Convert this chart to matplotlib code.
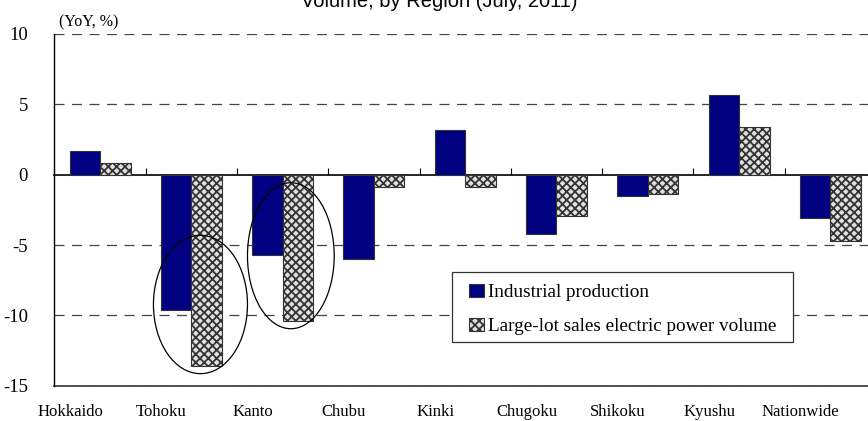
import matplotlib.pyplot as plt
import matplotlib.transforms as mtransforms
import numpy as np
from matplotlib.patches import Ellipse, Rectangle

# --- Data ---
regions = ["Hokkaido", "Tohoku", "Kanto", "Chubu", "Kinki", "Chugoku", "Shikoku", "Kyushu", "Nationwide"]
industrial = [1.7, -9.6, -5.7, -6.0, 3.2, -4.2, -1.5, 5.65, -3.05]
electric = [0.8, -13.6, -10.4, -0.9, -0.9, -2.95, -1.4, 3.4, -4.7]
yticks = [-15, -10, -5, 0, 5, 10]

plt.rcParams["font.family"] = ["Liberation Serif", "DejaVu Serif"]
plt.rcParams["axes.unicode_minus"] = False
plt.rcParams["hatch.color"] = "#808080"
plt.rcParams["hatch.linewidth"] = 1.3

fig = plt.figure(figsize=(8.68, 4.21), dpi=100)
W, H = 868, 421
ax = fig.add_axes([54.4 / W, (H - 385.7) / H, (876 - 54.4) / W, (385.7 - 34) / H])

x = np.arange(len(regions))
w = 0.334
ax.bar(x - w / 2, industrial, w, color="#000080", edgecolor="#333333", linewidth=0.8,
       label="Industrial production", zorder=3)
ax.bar(x + w / 2, electric, w, color="#e0e0e0", edgecolor="#333333", linewidth=0.8,
       hatch="xxxx", label="Large-lot sales electric power volume", zorder=3)

# circles around Tohoku and Kanto
for cx, cy, ew, eh in [(1.10, -9.23, 1.03, 9.83), (2.09, -5.76, 0.95, 10.38)]:
    ax.add_patch(Ellipse((cx, cy), ew, eh, fill=False, edgecolor="black", linewidth=0.9, zorder=4))

# axes styling
ax.set_xlim(-0.5, len(regions) - 0.5)
ax.set_ylim(-15, 10)
ax.set_yticks(yticks)
ax.tick_params(axis="y", length=0, pad=19, labelsize=13.5)
for y in yticks:
    if y != 0:
        ax.axhline(y, color="#444444", linewidth=0.9, linestyle=(0, (8, 6)), zorder=1)

ax.spines["top"].set_visible(False)
ax.spines["right"].set_visible(False)
ax.spines["left"].set_linewidth(1.0)
ax.spines["bottom"].set_position(("data", 0))
ax.spines["bottom"].set_linewidth(1.2)
ax.set_xticks(np.arange(len(regions) + 1) - 0.5)
ax.tick_params(axis="x", direction="in", length=5, width=0.8, labelbottom=False)

sec = ax.secondary_xaxis(0.0)
sec.set_xticks(x)
sec.set_xticklabels(regions)
sec.tick_params(length=0, pad=13.5, labelsize=12)
sec.spines["bottom"].set_color("#333333")
sec.spines["bottom"].set_linewidth(1.2)
shift = mtransforms.ScaledTranslation(-30 / 100, 0, fig.dpi_scale_trans)
for lab in sec.get_xticklabels():
    lab.set_transform(lab.get_transform() + shift)

ax.text(0.005, 1.01, "(YoY, %)", transform=ax.transAxes, fontsize=11.5, ha="left", va="bottom")

# legend: entries without frame, box drawn separately
ax.legend(loc="upper left", bbox_to_anchor=(0.505, 0.29), fontsize=13.8, frameon=False,
          handlelength=0.75, handleheight=0.65, handletextpad=0.2, borderpad=0,
          labelspacing=0.9, borderaxespad=0)
ax.add_patch(Rectangle((0.484, 0.125), 0.415, 0.197, transform=ax.transAxes, facecolor="white",
                       edgecolor="#333333", linewidth=0.9, zorder=5))
ax.get_legend().set_zorder(6)

fig.text(439 / W, 1 - 7 / H, "Industrial Production and Large-lot Sales Electric Power\nVolume, by Region (July, 2011)",
         family="Liberation Sans", fontsize=14.5, ha="center", va="baseline", linespacing=1.2)

plt.savefig("out.png", dpi=100)
plt.close()
